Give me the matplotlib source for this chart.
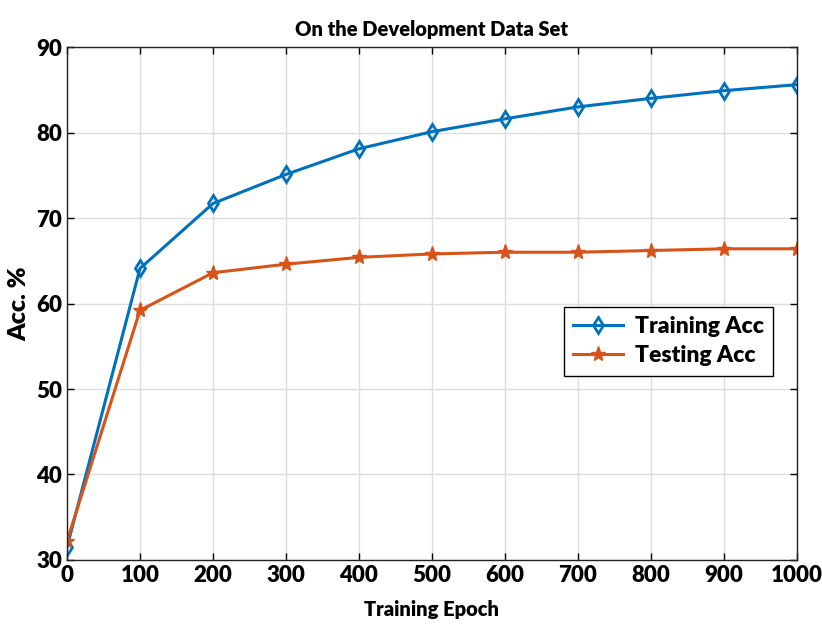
import matplotlib
matplotlib.use("Agg")
import matplotlib.pyplot as plt

epochs = [0, 100, 200, 300, 400, 500, 600, 700, 800, 900, 1000]
train_acc = [31.5, 64.1, 71.7, 75.1, 78.1, 80.1, 81.6, 83.0, 84.0, 84.9, 85.6]
test_acc = [32.2, 59.2, 63.6, 64.6, 65.4, 65.8, 66.0, 66.0, 66.2, 66.4, 66.4]
yticks = [30, 40, 50, 60, 70, 80, 90]

plt.rcParams['font.family'] = ['Lato', 'DejaVu Sans']

fig = plt.figure(figsize=(8.22, 6.24), dpi=100)
ax = fig.add_axes([0.0815, 0.1026, 0.888, 0.822])

ax.plot(epochs, train_acc, color='#0072BD', lw=2.2, marker='d', ms=8,
        mfc='none', mec='#0072BD', mew=2, label='Training Acc')
ax.plot(epochs, test_acc, color='#D95319', lw=2.2, marker='*', ms=11,
        mfc='#D95319', mec='#D95319', label='Testing Acc')

ax.set_xlim(0, 1000)
ax.set_ylim(30, 90)
ax.set_xticks(epochs)
ax.set_yticks(yticks)
ax.grid(True, color='#dddddd', lw=1)
ax.set_axisbelow(True)
ax.tick_params(direction='in', length=5, width=1, top=True, right=True,
               labelsize=16)
for lbl in ax.get_xticklabels() + ax.get_yticklabels():
    lbl.set_fontweight('heavy')
for sp in ax.spines.values():
    sp.set_color('#222222')
    sp.set_linewidth(1)

ax.set_title('On the Development Data Set', fontsize=14.5, fontweight='heavy', pad=8)
ax.set_xlabel('Training Epoch', fontsize=14.5, fontweight='heavy', labelpad=10)
ax.set_ylabel('Acc. %', fontsize=18, fontweight='heavy', labelpad=4)

leg = ax.legend(loc='upper left', bbox_to_anchor=(0.665, 0.515),
                prop={'weight': 'heavy', 'size': 16.5}, fancybox=False,
                edgecolor='black', framealpha=1, handlelength=2.2,
                borderpad=0.4, labelspacing=0.35, handletextpad=0.5)
leg.get_frame().set_linewidth(1)

fig.savefig('out.png', dpi=100)
